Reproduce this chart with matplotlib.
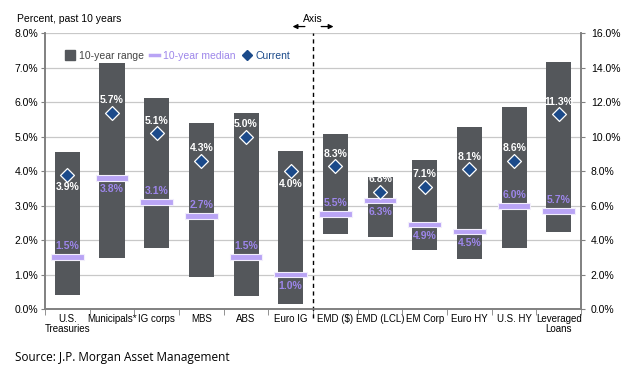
import numpy as np
import matplotlib.pyplot as plt
from matplotlib.lines import Line2D
from matplotlib.ticker import FuncFormatter, MultipleLocator

plt.rcParams['font.family'] = ['Liberation Sans', 'DejaVu Sans']

# investment grade / rates group (left axis)
left_cats = ["U.S.\nTreasuries", "Municipals*", "IG corps", "MBS", "ABS", "Euro IG"]
left_low = [0.41, 1.47, 1.76, 0.94, 0.38, 0.15]
left_high = [4.56, 7.13, 6.13, 5.39, 5.70, 4.59]
left_median = [1.5, 3.8, 3.1, 2.7, 1.5, 1.0]
left_current = [3.9, 5.7, 5.1, 4.3, 5.0, 4.0]

# credit / EM group (right axis)
right_cats = ["EMD ($)", "EMD (LCL)", "EM Corp", "Euro HY", "U.S. HY", "Leveraged\nLoans"]
right_low = [4.33, 4.20, 3.42, 2.92, 3.54, 4.45]
right_high = [10.16, 7.64, 8.65, 10.58, 11.70, 14.32]
right_median = [5.5, 6.3, 4.9, 4.5, 6.0, 5.7]
right_current = [8.3, 6.8, 7.1, 8.1, 8.6, 11.3]

# label placement: 1 = above, -1 = below
left_cur_pos = [-1, 1, 1, 1, 1, -1]
left_med_pos = [1, -1, 1, 1, 1, -1]
right_cur_pos = [1, 1, 1, 1, 1, 1]
right_med_pos = [1, -1, -1, -1, 1, 1]

bar_c = "#54575b"
med_c = "#b9a4f5"
med_txt = "#9d86ea"
cur_c = "#1b4a8a"

fig = plt.figure(figsize=(6.3, 3.8), dpi=100)
ax = fig.add_axes([0.0714, 0.187, 0.851, 0.725])
ax2 = ax.twinx()

xl = np.arange(len(left_cats))
xr = np.arange(len(right_cats)) + len(left_cats)


def draw_group(a, x, low, high, med, cur, cur_pos, med_pos, med_h):
    low = np.array(low)
    high = np.array(high)
    a.bar(x, high - low, bottom=low, width=0.56, color=bar_c, zorder=2)
    a.bar(x, med_h, bottom=np.array(med) - med_h / 2, width=0.73, color=med_c,
          edgecolor="#f2eefc", linewidth=0.8, zorder=3)
    a.scatter(x, cur, marker="D", s=50, color=cur_c, edgecolor="white",
              linewidth=0.9, zorder=4)
    for xi, c, p in zip(x, cur, cur_pos):
        a.annotate(f"{c:.1f}%", (xi, c), xytext=(0, 9 * p), textcoords="offset points",
                   ha="center", va="center", color="white", fontsize=7.5,
                   fontweight="bold", zorder=5)
    for xi, m, p in zip(x, med, med_pos):
        a.annotate(f"{m:.1f}%", (xi, m), xytext=(0, 8 * p), textcoords="offset points",
                   ha="center", va="center", color=med_txt, fontsize=7.5,
                   fontweight="bold", zorder=5)


draw_group(ax, xl, left_low, left_high, left_median, left_current,
           left_cur_pos, left_med_pos, 0.17)
draw_group(ax2, xr, right_low, right_high, right_median, right_current,
           right_cur_pos, right_med_pos, 0.34)

pct = FuncFormatter(lambda v, _: f"{v:.1f}%")
ax.set_ylim(0, 8)
ax2.set_ylim(0, 16)
ax.yaxis.set_major_locator(MultipleLocator(1))
ax2.yaxis.set_major_locator(MultipleLocator(2))
ax.yaxis.set_major_formatter(pct)
ax2.yaxis.set_major_formatter(pct)
ax.set_xlim(-0.5, 11.5)
ax.grid(axis="y", color="#c8c8c8", linewidth=0.9, zorder=0)
ax.set_axisbelow(True)

allcats = left_cats + right_cats
ax.set_xticks(np.arange(12))
ax.set_xticklabels(allcats, fontsize=7, linespacing=1.0)
ax.set_xticks(np.arange(-0.5, 12, 1), minor=True)
ax.tick_params(axis="x", which="major", length=0, pad=4)
ax.tick_params(axis="x", which="minor", length=4, color="#808080")
ax.tick_params(axis="y", labelsize=7.5, length=3, color="#808080", pad=2)
ax2.tick_params(axis="y", labelsize=7.5, length=3, color="#808080", pad=4)

for a in (ax, ax2):
    a.spines["top"].set_visible(False)
    for s in ("left", "right", "bottom"):
        a.spines[s].set_color("#808080")
        a.spines[s].set_linewidth(1.2)

# split between the two axes
ax.plot([5.5, 5.5], [-0.25, 8.0], linestyle=(0, (3, 2.5)), color="black",
        linewidth=1.0, clip_on=False, zorder=6)
ax.text(5.5, 8.28, "Axis", ha="center", va="bottom", fontsize=7.5)
ax.annotate("", xy=(4.98, 8.2), xytext=(5.38, 8.2), annotation_clip=False,
            arrowprops=dict(arrowstyle="-|>", color="black", lw=0.9, mutation_scale=7))
ax.annotate("", xy=(6.02, 8.2), xytext=(5.62, 8.2), annotation_clip=False,
            arrowprops=dict(arrowstyle="-|>", color="black", lw=0.9, mutation_scale=7))

fig.text(0.027, 0.95, "Percent, past 10 years", fontsize=7.5, va="center")

# legend
handles = [
    Line2D([], [], marker="s", linestyle="none", color=bar_c, markersize=7),
    Line2D([], [], color=med_c, linewidth=2.5),
    Line2D([], [], marker="D", linestyle="none", color=cur_c, markersize=5.5),
]
leg = ax.legend(handles, ["10-year range", "10-year median", "Current"], loc="upper left",
                bbox_to_anchor=(0.02, 0.97), ncol=3, frameon=False, fontsize=7.5,
                handlelength=0.9, handletextpad=0.4, columnspacing=0.6)
for t, c in zip(leg.get_texts(), ["#444444", med_txt, cur_c]):
    t.set_color(c)

fig.text(0.024, 0.06, "Source: J.P. Morgan Asset Management", fontsize=8.5,
         family=["Open Sans", "DejaVu Sans"], va="center")

fig.savefig("out.png", dpi=100)
